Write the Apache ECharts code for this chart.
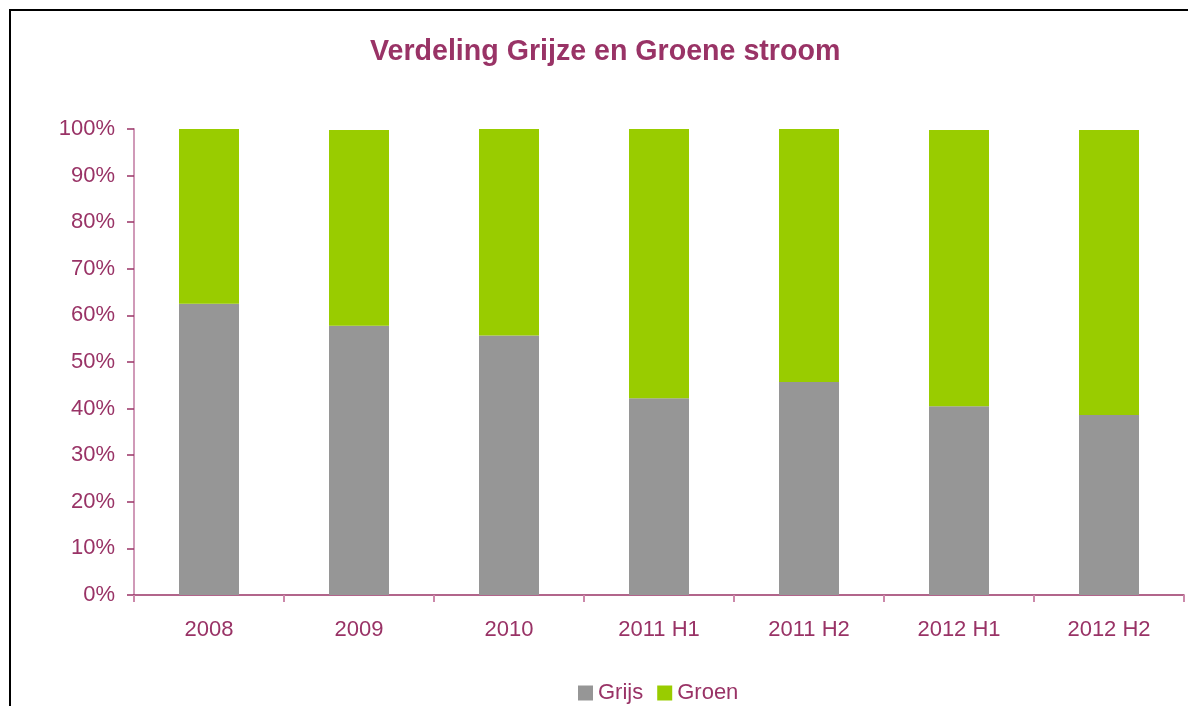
<!DOCTYPE html>
<html>
<head>
<meta charset="utf-8">
<title>Verdeling Grijze en Groene stroom</title>
<script src="https://cdn.jsdelivr.net/npm/echarts@6/dist/echarts.min.js"></script>
<style>
  html, body { margin: 0; padding: 0; background: #fff; }
  #chart { width: 1188px; height: 706px; }
</style>
</head>
<body>
<div id="chart"></div>
<script>
// Data
const categories = ['2008', '2009', '2010', '2011 H1', '2011 H2', '2012 H1', '2012 H2'];
const grijs = [62.5, 57.8, 55.7, 42.2, 45.7, 40.5, 38.6];
const groen = [37.5, 42.0, 44.3, 57.8, 54.3, 59.3, 61.2];
const yTicks = [0, 10, 20, 30, 40, 50, 60, 70, 80, 90, 100];

const textColor = '#993366';
const font = 'Liberation Sans, Arial, sans-serif';

const chart = echarts.init(document.getElementById('chart'));

chart.setOption({
  animation: false,
  color: ['#969696', '#99cc00'],
  title: {
    text: 'Verdeling Grijze en Groene stroom',
    left: 365,
    top: 33,
    textStyle: { color: textColor, fontSize: 28.6, fontWeight: 'bold', fontFamily: font }
  },
  // frame of the original chart area (top and left edges visible)
  graphic: [
    {
      type: 'rect',
      shape: { x: 10, y: 10, width: 1300, height: 800 },
      style: { fill: 'none', stroke: '#000', lineWidth: 2 },
      silent: true
    }
  ],
  legend: {
    left: 573,
    top: 677,
    itemWidth: 15,
    itemHeight: 15,
    itemGap: 14,
    icon: 'rect',
    textStyle: { color: textColor, fontSize: 22, fontFamily: font },
    data: ['Grijs', 'Groen']
  },
  grid: { left: 134, right: 4, top: 129, bottom: 111, containLabel: false },
  xAxis: {
    type: 'category',
    data: categories,
    axisLine: { lineStyle: { color: textColor, width: 1.5 } },
    axisTick: { show: true, alignWithLabel: false, length: 7, lineStyle: { color: '#cc88aa', width: 2 } },
    axisLabel: { color: textColor, fontSize: 22, fontFamily: font, margin: 24 }
  },
  yAxis: {
    type: 'value',
    min: yTicks[0],
    max: yTicks[yTicks.length - 1],
    interval: 10,
    splitLine: { show: false },
    axisLine: { show: true, lineStyle: { color: '#d09ab8', width: 2 } },
    axisTick: { show: true, length: 7, lineStyle: { color: textColor, width: 1.5 } },
    axisLabel: { color: textColor, fontSize: 22, fontFamily: font, margin: 19, formatter: v => v + '%' }
  },
  series: [
    { name: 'Grijs', type: 'bar', stack: 'total', barWidth: '40%', data: grijs },
    { name: 'Groen', type: 'bar', stack: 'total', barWidth: '40%', data: groen }
  ]
});
</script>
</body>
</html>
